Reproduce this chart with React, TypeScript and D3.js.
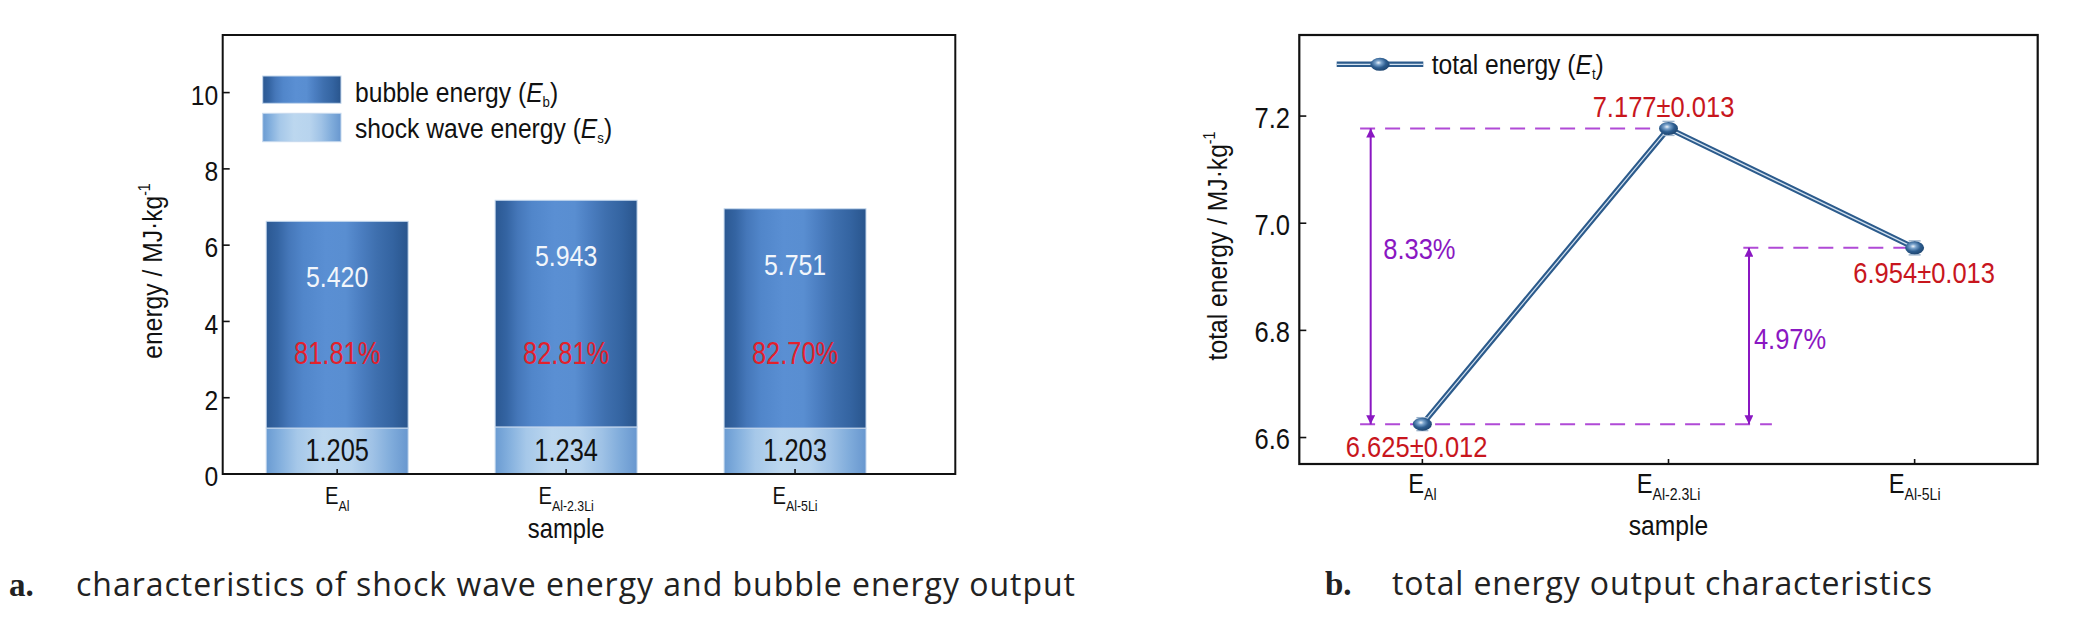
import React from 'react';
import * as d3 from 'd3';

// samples and measured energy output (MJ/kg)
const samples = ['Al', 'Al-2.3Li', 'Al-5Li'];
const bubbleEnergy = [5.42, 5.943, 5.751];
const shockEnergy = [1.205, 1.234, 1.203];
const bubbleShare = ['81.81%', '82.81%', '82.70%'];
const totalEnergy = [6.625, 7.177, 6.954];
const totalError = [0.012, 0.013, 0.013];
const energyTicks = [0, 2, 4, 6, 8, 10];
const totalTicks = [6.6, 6.8, 7.0, 7.2];
const gainLabels = ['8.33%', '4.97%'];

const SANS = '"Liberation Sans", Arial, Helvetica, sans-serif';
const CAPTION = '"Open Sans", "Noto Sans", sans-serif';
const PURPLE = '#8a17c2';
const DASH = '#b04ad6';
const RED = '#c8161d';

interface TxtProps {
  x: number;
  y: number;
  size: number;
  anchor?: 'start' | 'middle' | 'end';
  fill?: string;
  sx?: number;
  rotate?: number;
  children: React.ReactNode;
}

// narrow sans text (the figure uses a condensed Arial-like face)
const Txt: React.FC<TxtProps> = ({ x, y, size, anchor = 'start', fill = '#111', sx = 0.88, rotate = 0, children }) => (
  <text
    transform={`translate(${x},${y})${rotate ? ` rotate(${rotate})` : ''} scale(${sx},1)`}
    fontSize={size}
    textAnchor={anchor}
    fill={fill}
    fontFamily={SANS}
  >
    {children}
  </text>
);

const BarChart: React.FC = () => {
  const x = d3.scaleLinear().domain([0.5, 3.7]).range([222.7, 955.3]);
  const y = d3.scaleLinear().domain([0, 11.51]).range([474, 35]);
  const half = 0.31;
  const [x0, x1] = x.range();
  const [y0, y1] = y.range();

  return (
    <g>
      {samples.map((s, i) => {
        const left = x(i + 1 - half);
        const w = x(i + 1 + half) - left;
        const total = bubbleEnergy[i] + shockEnergy[i];
        return (
          <g key={s}>
            <rect x={left} y={y(shockEnergy[i])} width={w} height={y(0) - y(shockEnergy[i])} fill="url(#shockGrad)" stroke="#c6d9ee" strokeWidth={1} />
            <rect x={left} y={y(total)} width={w} height={y(shockEnergy[i]) - y(total)} fill="url(#bubbleGrad)" stroke="#c6d9ee" strokeWidth={1} />
            <Txt x={x(i + 1)} y={y(total - 1.45) + 10.7} size={30} sx={0.83} anchor="middle" fill="#f2f6fb">
              {bubbleEnergy[i].toFixed(3)}
            </Txt>
            <Txt x={x(i + 1)} y={y(3.17) + 11} size={31} sx={0.82} anchor="middle" fill="#e3202b">
              {bubbleShare[i]}
            </Txt>
            <Txt x={x(i + 1)} y={y(shockEnergy[i] * 0.52) + 11} size={31} sx={0.82} anchor="middle" fill="#111">
              {shockEnergy[i].toFixed(3)}
            </Txt>
          </g>
        );
      })}

      <rect x={x0} y={y1} width={x1 - x0} height={y0 - y1} fill="none" stroke="#111" strokeWidth={2} />
      {energyTicks.map((t) => (
        <g key={t}>
          <line x1={x0} x2={x0 + 7} y1={y(t)} y2={y(t)} stroke="#111" strokeWidth={1.6} />
          <Txt x={x0 - 4.5} y={y(t) + 12.3} size={28} anchor="end">
            {t}
          </Txt>
        </g>
      ))}
      {samples.map((s, i) => (
        <g key={s}>
          <line x1={x(i + 1)} x2={x(i + 1)} y1={y0} y2={y0 - 5} stroke="#111" strokeWidth={1.6} />
          <Txt x={x(i + 1)} y={504} size={23} anchor="middle">
            E<tspan fontSize={14} dy={6.7}>{s}</tspan>
          </Txt>
        </g>
      ))}
      <Txt x={x(2)} y={538} size={27} anchor="middle">
        sample
      </Txt>
      <Txt x={162} y={271} size={28} anchor="middle" rotate={-90}>
        energy / MJ·kg<tspan fontSize={16} dy={-12}>-1</tspan>
      </Txt>

      {/* legend */}
      <rect x={262.7} y={76} width={78.3} height={27.3} fill="url(#bubbleGrad)" stroke="#c6d9ee" strokeWidth={1} />
      <rect x={262.7} y={113.3} width={78.3} height={28.4} fill="url(#shockGrad)" stroke="#c6d9ee" strokeWidth={1} />
      <Txt x={355} y={101.7} size={28}>
        bubble energy (<tspan fontStyle="italic">E</tspan>
        <tspan fontSize={15} dy={5}>b</tspan>
        <tspan dy={-5}>)</tspan>
      </Txt>
      <Txt x={355} y={138.3} size={28}>
        shock wave energy (<tspan fontStyle="italic">E</tspan>
        <tspan fontSize={15} dy={5}>s</tspan>
        <tspan dy={-5}>)</tspan>
      </Txt>
    </g>
  );
};

const LineChart: React.FC = () => {
  const x = d3.scaleLinear().domain([0.5, 3.5]).range([1299.3, 2037.7]);
  const y = d3.scaleLinear().domain([6.5506, 7.3513]).range([464, 35]);
  const [x0, x1] = x.range();
  const [y0, y1] = y.range();
  const pts: Array<[number, number]> = totalEnergy.map((v, i) => [x(i + 1), y(v)]);
  const path = d3.line()(pts) ?? '';
  const base = y(totalEnergy[0]);
  const arrowX = [x(0.79), x(2.327)];
  const dashStart = [x(0.747), x(2.304)];
  const labelDx = [-5.7, -5, 9.5];
  const labelY = [base + 32.6, y(totalEnergy[1]) - 11.6, y(totalEnergy[2]) + 35.3];

  return (
    <g>
      {/* guide lines and arrows */}
      <line x1={dashStart[0]} x2={x(2)} y1={y(totalEnergy[1])} y2={y(totalEnergy[1])} stroke={DASH} strokeWidth={2} strokeDasharray="15,10" />
      <line x1={dashStart[1]} x2={x(3)} y1={y(totalEnergy[2])} y2={y(totalEnergy[2])} stroke={DASH} strokeWidth={2} strokeDasharray="15,10" />
      <line x1={dashStart[0]} x2={x(2.42)} y1={base} y2={base} stroke={DASH} strokeWidth={2} strokeDasharray="15,10" />
      <line x1={arrowX[0]} x2={arrowX[0]} y1={base} y2={y(totalEnergy[1])} stroke={PURPLE} strokeWidth={2} markerStart="url(#arrowHead)" markerEnd="url(#arrowHead)" />
      <line x1={arrowX[1]} x2={arrowX[1]} y1={base} y2={y(totalEnergy[2])} stroke={PURPLE} strokeWidth={2} markerStart="url(#arrowHead)" markerEnd="url(#arrowHead)" />
      <Txt x={x(0.841)} y={y(6.933)} size={29} fill={PURPLE}>
        {gainLabels[0]}
      </Txt>
      <Txt x={x(2.347)} y={y(6.765)} size={29} fill={PURPLE}>
        {gainLabels[1]}
      </Txt>

      {/* series */}
      <path d={path} fill="none" stroke="#2c5b8c" strokeWidth={5.5} strokeLinejoin="round" />
      <path d={path} fill="none" stroke="#d3e2f0" strokeWidth={1.2} strokeLinejoin="round" />
      {totalEnergy.map((v, i) => (
        <g key={samples[i]}>
          <line x1={x(i + 1)} x2={x(i + 1)} y1={y(v - totalError[i])} y2={y(v + totalError[i])} stroke="#9db4cc" strokeWidth={1.5} />
          <line x1={x(i + 1) - 6} x2={x(i + 1) + 6} y1={y(v + totalError[i])} y2={y(v + totalError[i])} stroke="#9db4cc" strokeWidth={1.5} />
          <line x1={x(i + 1) - 6} x2={x(i + 1) + 6} y1={y(v - totalError[i])} y2={y(v - totalError[i])} stroke="#9db4cc" strokeWidth={1.5} />
          <ellipse cx={x(i + 1)} cy={y(v)} rx={9.5} ry={6.5} fill="url(#ballGrad)" />
          <Txt x={x(i + 1) + labelDx[i]} y={labelY[i]} size={29} anchor="middle" fill={RED}>
            {v.toFixed(3)}±{totalError[i].toFixed(3)}
          </Txt>
        </g>
      ))}

      <rect x={x0} y={y1} width={x1 - x0} height={y0 - y1} fill="none" stroke="#111" strokeWidth={2.2} />
      {totalTicks.map((t) => (
        <g key={t}>
          <line x1={x0} x2={x0 + 7} y1={y(t)} y2={y(t)} stroke="#111" strokeWidth={1.6} />
          <Txt x={x0 - 9.3} y={y(t) + 11.9} size={29} anchor="end">
            {t.toFixed(1)}
          </Txt>
        </g>
      ))}
      {samples.map((s, i) => (
        <g key={s}>
          <line x1={x(i + 1)} x2={x(i + 1)} y1={y0} y2={y0 - 5} stroke="#111" strokeWidth={1.6} />
          <Txt x={x(i + 1)} y={492.7} size={27} anchor="middle">
            E<tspan fontSize={16} dy={7}>{s}</tspan>
          </Txt>
        </g>
      ))}
      <Txt x={x(2)} y={535} size={28} anchor="middle">
        sample
      </Txt>
      <Txt x={1227} y={246} size={28} anchor="middle" rotate={-90}>
        total energy / MJ·kg<tspan fontSize={16} dy={-12}>-1</tspan>
      </Txt>

      {/* legend */}
      <line x1={1336.7} x2={1423.3} y1={64.3} y2={64.3} stroke="#2c5b8c" strokeWidth={5.5} />
      <line x1={1336.7} x2={1423.3} y1={64.3} y2={64.3} stroke="#d3e2f0" strokeWidth={1.2} />
      <ellipse cx={1380} cy={64.3} rx={9.5} ry={6.5} fill="url(#ballGrad)" />
      <Txt x={1431.7} y={74} size={28}>
        total energy (<tspan fontStyle="italic">E</tspan>
        <tspan fontSize={15} dy={5}>t</tspan>
        <tspan dy={-5}>)</tspan>
      </Txt>
    </g>
  );
};

const App: React.FC = () => (
  <svg width={2091} height={631} style={{ position: 'absolute', left: 0, top: 0, background: '#fff' }}>
    <defs>
      <linearGradient id="bubbleGrad" x1="0" x2="1" y1="0" y2="0">
        <stop offset="0%" stopColor="#2b5892" />
        <stop offset="8%" stopColor="#3464a2" />
        <stop offset="16%" stopColor="#4577b9" />
        <stop offset="26%" stopColor="#5186ca" />
        <stop offset="42%" stopColor="#5a8fd3" />
        <stop offset="56%" stopColor="#598ed1" />
        <stop offset="66%" stopColor="#4c7fc2" />
        <stop offset="78%" stopColor="#3e6fae" />
        <stop offset="89%" stopColor="#3464a1" />
        <stop offset="100%" stopColor="#29558d" />
      </linearGradient>
      <linearGradient id="shockGrad" x1="0" x2="1" y1="0" y2="0">
        <stop offset="0%" stopColor="#6a9bd2" />
        <stop offset="10%" stopColor="#84b0de" />
        <stop offset="22%" stopColor="#a6c8e9" />
        <stop offset="40%" stopColor="#bcd7ef" />
        <stop offset="60%" stopColor="#b8d4ee" />
        <stop offset="75%" stopColor="#9fc2e6" />
        <stop offset="88%" stopColor="#80acdb" />
        <stop offset="100%" stopColor="#6897cf" />
      </linearGradient>
      <radialGradient id="ballGrad" cx="0.42" cy="0.38" r="0.65">
        <stop offset="0%" stopColor="#eef4fa" />
        <stop offset="25%" stopColor="#7aa3cc" />
        <stop offset="60%" stopColor="#2d5d8f" />
        <stop offset="100%" stopColor="#1c436d" />
      </radialGradient>
      <marker id="arrowHead" viewBox="0 0 10 10" refX="10" refY="5" markerWidth={12} markerHeight={9} orient="auto-start-reverse" markerUnits="userSpaceOnUse">
        <path d="M0,0 L10,5 L0,10 Z" fill={PURPLE} />
      </marker>
    </defs>

    <BarChart />
    <LineChart />

    {/* captions */}
    <text x={9} y={596} fontSize={33} fontWeight="bold" fontFamily='"Liberation Serif", serif' fill="#222">
      a.
    </text>
    <text x={76} y={596} fontSize={32} fontFamily={CAPTION} fill="#222" textLength={999} lengthAdjust="spacing">
      characteristics of shock wave energy and bubble energy output
    </text>
    <text x={1325} y={595} fontSize={33} fontWeight="bold" fontFamily='"Liberation Serif", serif' fill="#222">
      b.
    </text>
    <text x={1392} y={595} fontSize={32} fontFamily={CAPTION} fill="#222" textLength={540} lengthAdjust="spacing">
      total energy output characteristics
    </text>
  </svg>
);

export default App;
